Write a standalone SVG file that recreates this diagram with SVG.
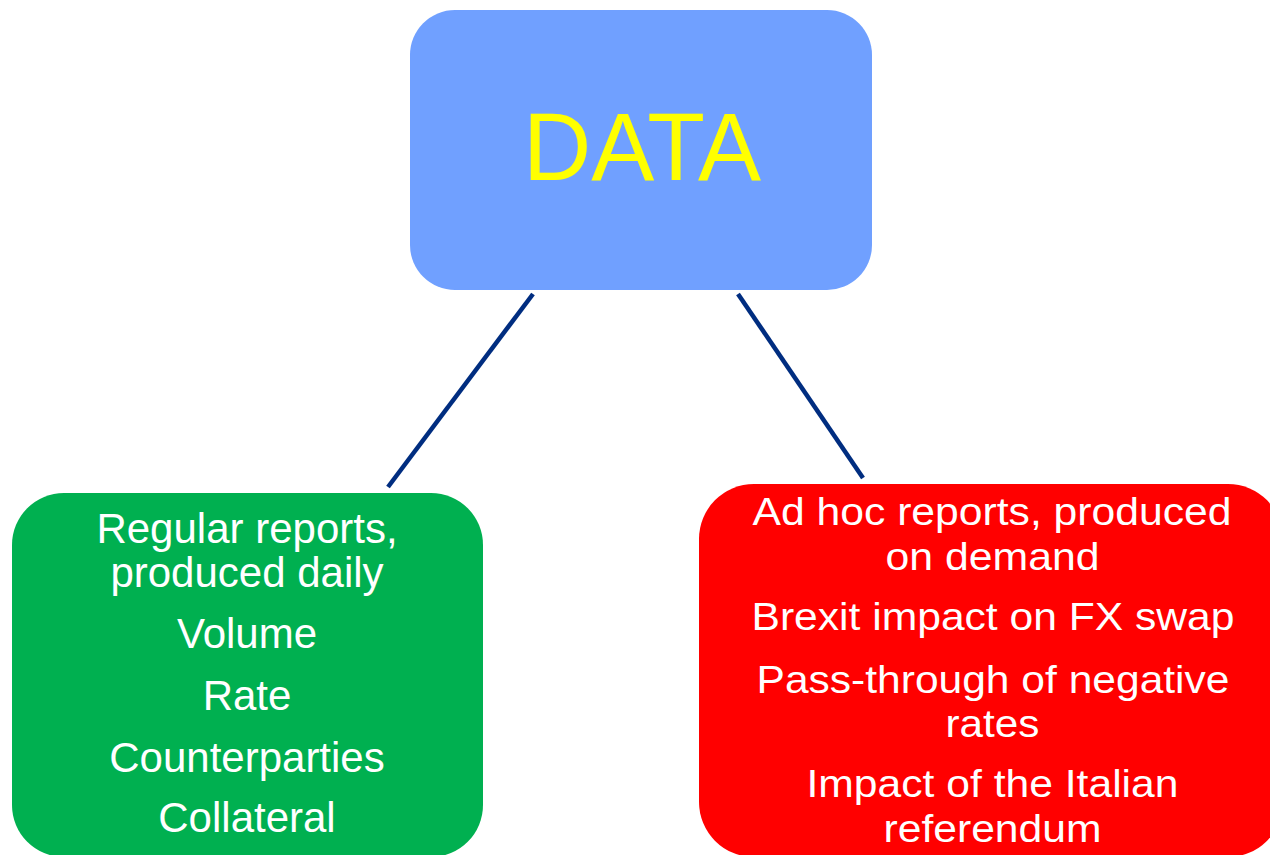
<svg xmlns="http://www.w3.org/2000/svg" width="1270" height="855" viewBox="0 0 1270 855">
<style>
  text { font-family: "Liberation Sans", Arial, sans-serif; text-anchor: middle; }
  .w { fill: #FFFFFF; }
  .g { font-size: 42px; }
  .r { font-size: 39px; }
  .conn { stroke: #002D80; stroke-width: 4.5; fill: none; }
</style>
<rect width="1270" height="855" fill="#FFFFFF"/>
<g id="connectors">
  <line class="conn" x1="533" y1="294" x2="388" y2="487"/>
  <line class="conn" x1="738" y1="294" x2="863" y2="478"/>
</g>
<g id="data">
  <rect x="410" y="10" width="462" height="280" rx="45" fill="#70A0FF"/>
  <text x="642" y="180" font-size="97" fill="#FFFF00" textLength="238" lengthAdjust="spacingAndGlyphs">DATA</text>
</g>
<g id="regular">
  <rect x="12" y="493" width="471" height="364" rx="52" fill="#00B050"/>
  <text class="w g" x="247" y="543">Regular reports,</text>
  <text class="w g" x="247" y="587">produced daily</text>
  <text class="w g" x="247" y="648">Volume</text>
  <text class="w g" x="247" y="710">Rate</text>
  <text class="w g" x="247" y="772">Counterparties</text>
  <text class="w g" x="247" y="832">Collateral</text>
</g>
<g id="adhoc">
  <rect x="699" y="484" width="584" height="373" rx="55" fill="#FF0000"/>
  <text class="w r" x="992" y="525" textLength="479" lengthAdjust="spacingAndGlyphs">Ad hoc reports, produced</text>
  <text class="w r" x="992.5" y="570" textLength="214" lengthAdjust="spacingAndGlyphs">on demand</text>
  <text class="w r" x="993" y="630" textLength="483" lengthAdjust="spacingAndGlyphs">Brexit impact on FX swap</text>
  <text class="w r" x="993" y="693" textLength="473" lengthAdjust="spacingAndGlyphs">Pass-through of negative</text>
  <text class="w r" x="992.5" y="737" textLength="94" lengthAdjust="spacingAndGlyphs">rates</text>
  <text class="w r" x="992.5" y="797" textLength="372" lengthAdjust="spacingAndGlyphs">Impact of the Italian</text>
  <text class="w r" x="992.5" y="842" textLength="218" lengthAdjust="spacingAndGlyphs">referendum</text>
</g>
</svg>
